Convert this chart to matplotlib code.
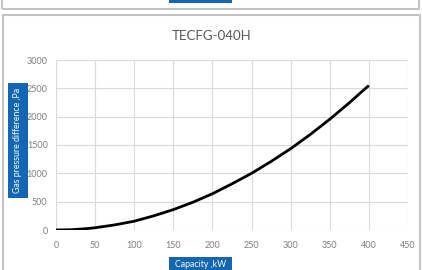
import matplotlib
matplotlib.use("Agg")
from matplotlib import pyplot as plt
from matplotlib.patches import Rectangle

# values
capacity_kw = [0, 20, 40, 50, 75, 100, 125, 150, 175, 200, 225, 250, 275, 300, 325, 350, 375, 390, 400]
pressure_pa = [0, 5, 25, 40, 90, 155, 250, 360, 490, 640, 815, 1000, 1210, 1435, 1685, 1955, 2245, 2430, 2550]

x_ticks = [0, 50, 100, 150, 200, 250, 300, 350, 400, 450]
y_ticks = [0, 500, 1000, 1500, 2000, 2500, 3000]

W, H = 422, 270
font = {'family': 'Lato'}
blue = '#1366b3'
frame_grey = '#c4c4c4'


def fx(px):
    return px / W


def fy(py):
    return 1 - py / H


def box(x0, y0, x1, y1, **kw):
    # rectangle given in pixel coordinates (top-left origin)
    fig.add_artist(Rectangle((fx(x0), fy(y1)), fx(x1) - fx(x0), fy(y0) - fy(y1),
                             transform=fig.transFigure, **kw))


fig = plt.figure(figsize=(W / 100, H / 100), dpi=100)
fig.patch.set_facecolor('white')

# frames of the neighbouring chart boxes
box(2, -20, 419, 9, fill=False, edgecolor=frame_grey, linewidth=1.5)
box(169, -5, 232, 3, facecolor=blue, edgecolor='none')
box(3, 15, 420, 290, fill=False, edgecolor=frame_grey, linewidth=1.5)

ax = fig.add_axes([fx(56), fy(230), fx(408) - fx(56), fy(60) - fy(230)])
ax.plot(capacity_kw, pressure_pa, color='black', linewidth=2.0, solid_capstyle='butt',
        solid_joinstyle='round', zorder=3)

ax.set_xlim(0, 450)
ax.set_ylim(0, 3000)
ax.set_xticks(x_ticks)
ax.set_yticks(y_ticks)
ax.grid(True, color='#d9d9d9', linewidth=0.8)
ax.set_axisbelow(True)
for s in ax.spines.values():
    s.set_visible(False)
ax.tick_params(length=0, labelsize=6.5, labelcolor='#7f7f7f')
ax.tick_params(axis='x', pad=8)
ax.tick_params(axis='y', pad=6)
for lab in ax.get_xticklabels() + ax.get_yticklabels():
    lab.set_family('Lato')

fig.text(fx(212), fy(36), 'TECFG-040H', ha='center', va='center', fontsize=9.5, color='#595959', **font)

# axis title boxes
box(169, 257, 232, 272, facecolor=blue, edgecolor='none')
fig.text(fx(200.5), fy(264.5), 'Capacity ,kW', ha='center', va='center', fontsize=6.3, color='white', **font)
box(8, 83, 28, 198, facecolor=blue, edgecolor='none')
fig.text(fx(18), fy(140.5), 'Gas pressure difference ,Pa', ha='center', va='center', rotation=90,
         fontsize=6.3, color='white', **font)

plt.savefig('out.png', dpi=100)
